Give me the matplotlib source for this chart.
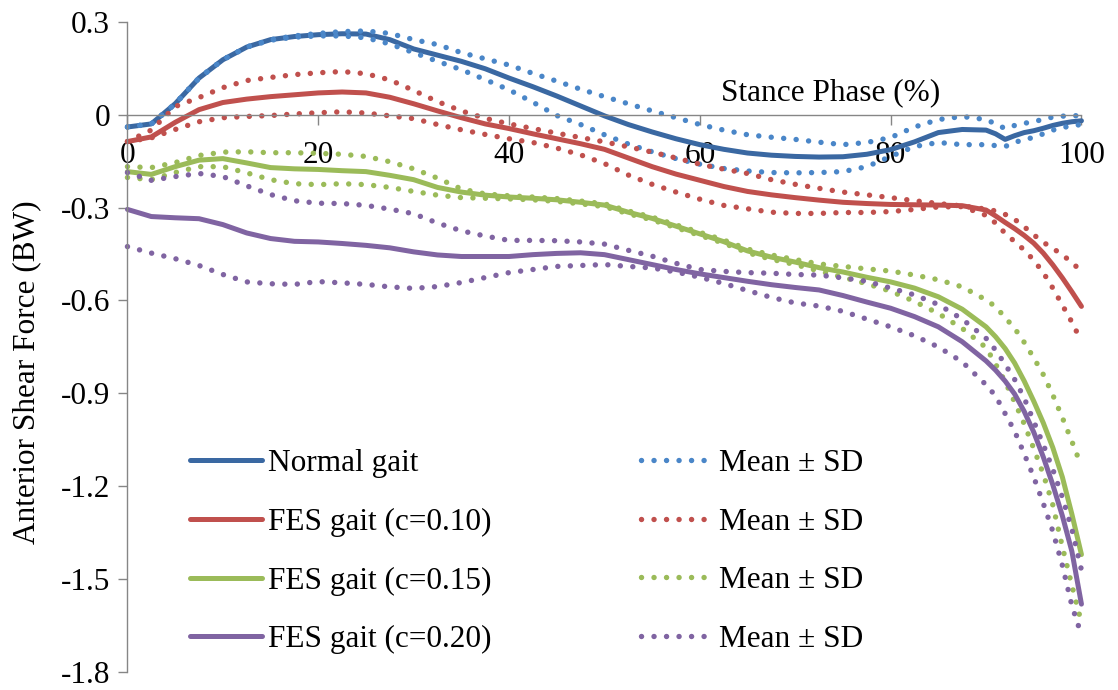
import matplotlib
matplotlib.use('Agg')
import matplotlib.pyplot as plt
from matplotlib.lines import Line2D

plt.rcParams['font.family'] = ['Liberation Serif', 'DejaVu Serif']
plt.rcParams['font.size'] = 22.5

# stance phase (%) sample points
stance = [0, 2.5, 5, 7.5, 10, 12.5, 15, 17.5, 20, 22.5, 25, 27.5, 30, 32.5, 35, 37.5,
          40, 42.5, 45, 47.5, 50, 52.5, 55, 57.5, 60, 62.5, 65, 67.5, 70, 72.5, 75, 77.5,
          80, 82.5, 85, 87.5, 90, 91, 92, 93, 94, 95, 96, 97, 98, 99, 100]

# Normal gait
normal_mean = [-0.040, -0.030, 0.035, 0.118, 0.177, 0.218, 0.242, 0.252, 0.258, 0.261, 0.260, 0.242,
               0.212, 0.192, 0.172, 0.148, 0.118, 0.090, 0.060, 0.028, -0.004, -0.032, -0.056, -0.078,
               -0.097, -0.112, -0.124, -0.131, -0.135, -0.137, -0.136, -0.128, -0.113, -0.088, -0.058,
               -0.048, -0.050,
               -0.062, -0.080, -0.068, -0.058, -0.052, -0.044, -0.035, -0.028, -0.023, -0.020]
normal_upper = [-0.040, -0.030, 0.035, 0.118, 0.177, 0.218, 0.242, 0.254, 0.262, 0.268, 0.270, 0.262,
                0.242, 0.226, 0.200, 0.180, 0.160, 0.133, 0.108, 0.082, 0.058, 0.035, 0.012, -0.010,
                -0.032, -0.050, -0.065, -0.073, -0.080, -0.089, -0.097, -0.090, -0.074, -0.040, -0.016,
                -0.006, -0.016,
                -0.030, -0.045, -0.035, -0.028, -0.023, -0.015, -0.008, -0.005, -0.004, -0.003]
normal_lower = [-0.040, -0.030, 0.035, 0.118, 0.177, 0.218, 0.240, 0.250, 0.254, 0.254, 0.248, 0.228,
                0.200, 0.172, 0.145, 0.113, 0.080, 0.040, -0.003, -0.032, -0.065, -0.095, -0.120, -0.142,
                -0.160, -0.174, -0.182, -0.187, -0.188, -0.187, -0.184, -0.168, -0.135, -0.103, -0.090,
                -0.097, -0.097,
                -0.100, -0.103, -0.090, -0.080, -0.074, -0.062, -0.050, -0.042, -0.036, -0.032]

# FES gait c=0.10
fes10_mean = [-0.087, -0.072, -0.025, 0.016, 0.039, 0.050, 0.058, 0.064, 0.070, 0.073, 0.070, 0.056,
              0.035, 0.012, -0.010, -0.030, -0.045, -0.062, -0.078, -0.094, -0.112, -0.140, -0.168, -0.192,
              -0.212, -0.232, -0.248, -0.259, -0.268, -0.276, -0.283, -0.287, -0.290, -0.291, -0.292,
              -0.294, -0.308,
              -0.327, -0.348, -0.368, -0.390, -0.415, -0.447, -0.485, -0.527, -0.572, -0.619]
fes10_upper = [-0.087, -0.050, 0.026, 0.055, 0.087, 0.110, 0.120, 0.129, 0.135, 0.139, 0.132, 0.112,
               0.078, 0.042, 0.012, -0.012, -0.030, -0.045, -0.060, -0.074, -0.088, -0.104, -0.121, -0.140,
               -0.160, -0.176, -0.190, -0.210, -0.225, -0.238, -0.250, -0.259, -0.268, -0.278, -0.287,
               -0.295, -0.305,
               -0.311, -0.322, -0.338, -0.362, -0.388, -0.412, -0.432, -0.452, -0.478, -0.505]
fes10_lower = [-0.087, -0.075, -0.048, -0.023, -0.010, -0.006, -0.003, 0.002, 0.006, 0.009, 0.005, -0.004,
               -0.013, -0.032, -0.049, -0.064, -0.078, -0.090, -0.108, -0.130, -0.158, -0.195, -0.225, -0.250,
               -0.273, -0.293, -0.304, -0.315, -0.319, -0.319, -0.316, -0.316, -0.313, -0.306, -0.298,
               -0.297, -0.325,
               -0.350, -0.383, -0.410, -0.437, -0.470, -0.510, -0.560, -0.615, -0.670, -0.732]

# FES gait c=0.15
fes15_mean = [-0.184, -0.193, -0.168, -0.147, -0.142, -0.156, -0.171, -0.175, -0.177, -0.181, -0.184, -0.196,
              -0.210, -0.235, -0.250, -0.260, -0.266, -0.270, -0.275, -0.283, -0.292, -0.315, -0.335, -0.360,
              -0.385, -0.410, -0.440, -0.460, -0.476, -0.494, -0.508, -0.525, -0.540, -0.560, -0.588,
              -0.628, -0.685,
              -0.717, -0.755, -0.802, -0.860, -0.925, -0.995, -1.075, -1.170, -1.290, -1.420]
fes15_upper = [-0.168, -0.171, -0.155, -0.132, -0.121, -0.120, -0.123, -0.123, -0.125, -0.128, -0.135, -0.152,
               -0.175, -0.205, -0.240, -0.256, -0.262, -0.266, -0.271, -0.279, -0.288, -0.311, -0.331, -0.356,
               -0.380, -0.405, -0.434, -0.453, -0.468, -0.482, -0.490, -0.498, -0.505, -0.518, -0.533,
               -0.556, -0.598,
               -0.620, -0.655, -0.690, -0.735, -0.785, -0.839, -0.905, -0.978, -1.055, -1.135]
fes15_lower = [-0.203, -0.210, -0.187, -0.168, -0.168, -0.188, -0.210, -0.223, -0.226, -0.223, -0.226, -0.235,
               -0.248, -0.260, -0.268, -0.270, -0.272, -0.275, -0.280, -0.288, -0.297, -0.320, -0.340, -0.365,
               -0.390, -0.415, -0.446, -0.467, -0.484, -0.505, -0.525, -0.546, -0.570, -0.603, -0.642,
               -0.690, -0.752,
               -0.805, -0.862, -0.928, -0.998, -1.078, -1.160, -1.260, -1.395, -1.520, -1.640]

# FES gait c=0.20
fes20_mean = [-0.306, -0.329, -0.333, -0.336, -0.355, -0.382, -0.400, -0.409, -0.411, -0.416, -0.422, -0.430,
              -0.443, -0.453, -0.458, -0.458, -0.458, -0.452, -0.448, -0.446, -0.452, -0.468, -0.484, -0.500,
              -0.514, -0.526, -0.538, -0.549, -0.558, -0.566, -0.584, -0.605, -0.625, -0.652, -0.685,
              -0.733, -0.795,
              -0.825, -0.860, -0.902, -0.958, -1.025, -1.105, -1.195, -1.295, -1.410, -1.580]
fes20_upper = [-0.187, -0.212, -0.200, -0.190, -0.200, -0.230, -0.258, -0.278, -0.286, -0.287, -0.293, -0.305,
               -0.320, -0.350, -0.375, -0.392, -0.406, -0.406, -0.407, -0.411, -0.418, -0.438, -0.457, -0.480,
               -0.500, -0.506, -0.510, -0.512, -0.516, -0.518, -0.527, -0.538, -0.560, -0.582, -0.613,
               -0.660, -0.722,
               -0.760, -0.806, -0.855, -0.915, -0.990, -1.065, -1.145, -1.235, -1.339, -1.470]
fes20_lower = [-0.426, -0.447, -0.465, -0.487, -0.516, -0.540, -0.546, -0.548, -0.539, -0.543, -0.548, -0.556,
               -0.561, -0.555, -0.542, -0.526, -0.510, -0.500, -0.490, -0.487, -0.484, -0.490, -0.495, -0.508,
               -0.525, -0.545, -0.568, -0.590, -0.608, -0.618, -0.635, -0.660, -0.685, -0.714, -0.750,
               -0.798, -0.872,
               -0.908, -0.965, -1.022, -1.095, -1.170, -1.255, -1.345, -1.455, -1.585, -1.680]

series_labels = ['Normal gait', 'FES gait (c=0.10)', 'FES gait (c=0.15)', 'FES gait (c=0.20)']
sd_label = 'Mean \u00b1 SD'
x_ticks = [0, 20, 40, 60, 80, 100]
y_ticks = [0.3, 0, -0.3, -0.6, -0.9, -1.2, -1.5, -1.8]
y_tick_labels = ['0.3', '0', '-0.3', '-0.6', '-0.9', '-1.2', '-1.5', '-1.8']

solid_colors = ['#3A68A2', '#C0504D', '#9BBB59', '#8064A2']
dot_colors = ['#4A86C8', '#C0504D', '#9BBB59', '#8064A2']

groups = [(normal_mean, normal_upper, normal_lower),
          (fes10_mean, fes10_upper, fes10_lower),
          (fes15_mean, fes15_upper, fes15_lower),
          (fes20_mean, fes20_upper, fes20_lower)]

dot = (0, (0.01, 2.3))
lw = 3.6
dot_lw = 3.9

fig = plt.figure(figsize=(11.18, 6.9), dpi=100)
ax = fig.add_axes([0.114, 0.0257, 0.8533, 0.9429])

for (m, up, lo), cs, cd in zip(groups, solid_colors, dot_colors):
    ax.plot(stance, m, color=cs, lw=lw, solid_capstyle='round', solid_joinstyle='round', clip_on=False)
    ax.plot(stance, up, color=cd, lw=dot_lw, ls=dot, dash_capstyle='round', clip_on=False)
    ax.plot(stance, lo, color=cd, lw=dot_lw, ls=dot, dash_capstyle='round', clip_on=False)

ax.set_xlim(0, 100)
ax.set_ylim(-1.8, 0.3)
ax.spines['top'].set_visible(False)
ax.spines['right'].set_visible(False)
ax.spines['bottom'].set_position(('data', 0))
for s in ['left', 'bottom']:
    ax.spines[s].set_color('#868686')
    ax.spines[s].set_linewidth(1.0)
ax.set_xticks(x_ticks)
ax.set_xticklabels([str(t) for t in x_ticks])
ax.set_yticks(y_ticks)
ax.set_yticklabels(y_tick_labels)
ax.tick_params(axis='x', direction='out', length=7, width=1, color='#868686', pad=12)
ax.tick_params(axis='y', direction='out', length=6.5, width=1, color='#868686', pad=6)

ax.text(73.7, 0.072, 'Stance Phase (%)', ha='center', va='center')
fig.text(27 / 1118, 1 - 372 / 690, 'Anterior Shear Force (BW)', rotation=90,
         ha='center', va='center', rotation_mode='anchor')

handles = [Line2D([], [], color=c, lw=lw, solid_capstyle='round') for c in solid_colors]
handles += [Line2D([], [], color=c, lw=dot_lw, ls=dot, dash_capstyle='round') for c in dot_colors]
labels = series_labels + [sd_label] * 4
ax.legend(handles, labels, ncol=2, loc='upper left',
          bbox_to_anchor=(190 / 1118, 1 - 449 / 690), bbox_transform=fig.transFigure,
          frameon=False, handlelength=2.3, handletextpad=0.2, columnspacing=4.77,
          labelspacing=0.95, borderpad=0, borderaxespad=0)

fig.savefig('out.png', dpi=100)
